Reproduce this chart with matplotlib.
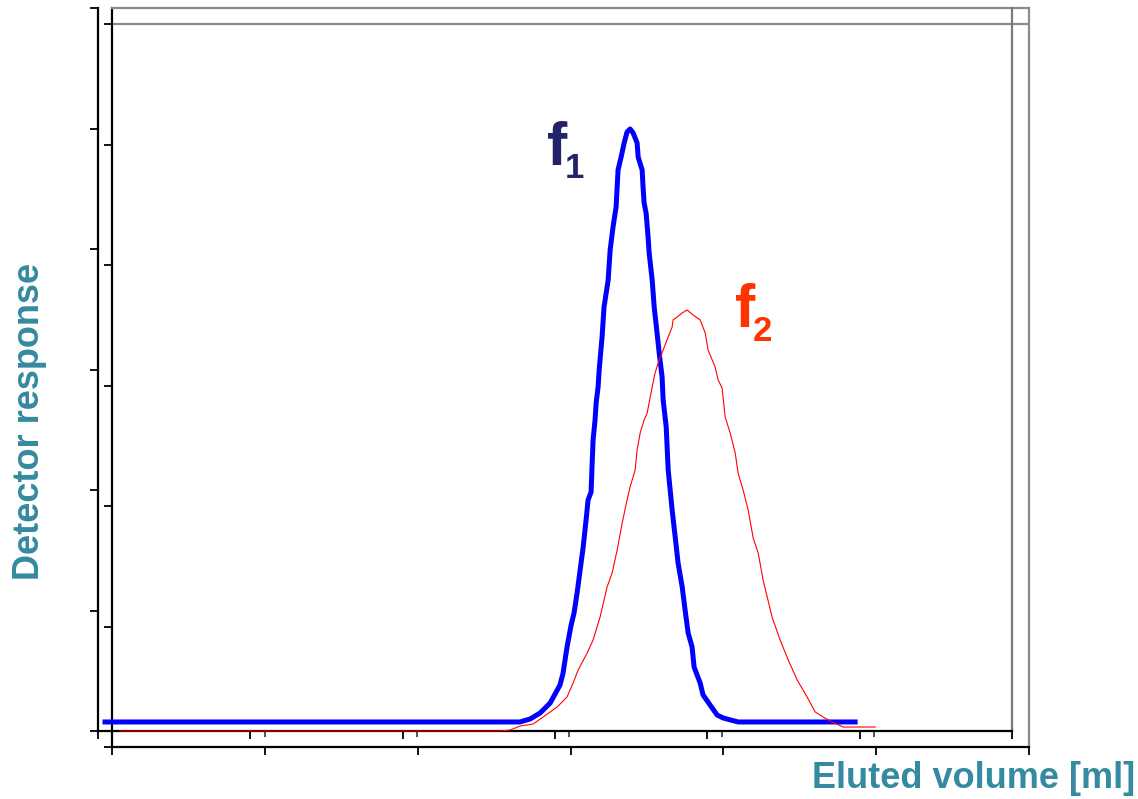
import matplotlib
matplotlib.use("Agg")
import matplotlib.pyplot as plt
import numpy as np

# ---- data (x in volume units, y in response units; axis spans 0..6 both) ----
f1_x = [0.046, 2.771, 2.837, 2.902, 2.968, 3.033, 3.053, 3.079, 3.106, 3.125,
        3.145, 3.165, 3.185, 3.204, 3.217, 3.237, 3.244, 3.250, 3.263, 3.270,
        3.283, 3.290, 3.309, 3.322, 3.336, 3.349, 3.362, 3.381, 3.401, 3.408,
        3.414, 3.434, 3.454, 3.473, 3.493, 3.513, 3.539, 3.546, 3.572, 3.578,
        3.585, 3.598, 3.611, 3.618, 3.638, 3.651, 3.670, 3.684, 3.703, 3.710,
        3.730, 3.743, 3.756, 3.769, 3.789, 3.808, 3.835, 3.854, 3.874, 3.900,
        3.913, 3.953, 3.972, 4.018, 4.064, 4.104, 4.202, 4.347, 4.970]
f1_y = [0.075, 0.075, 0.100, 0.149, 0.232, 0.382, 0.481, 0.697, 0.880, 0.979,
        1.145, 1.336, 1.527, 1.751, 1.917, 1.983, 2.224, 2.415, 2.581, 2.722,
        2.855, 2.996, 3.270, 3.519, 3.635, 3.743, 3.992, 4.183, 4.349, 4.515,
        4.656, 4.763, 4.880, 4.971, 4.996, 4.963, 4.880, 4.763, 4.656, 4.515,
        4.382, 4.299, 4.100, 3.967, 3.743, 3.519, 3.303, 3.137, 2.938, 2.747,
        2.523, 2.166, 2.000, 1.834, 1.610, 1.394, 1.195, 1.004, 0.813, 0.697,
        0.531, 0.398, 0.299, 0.216, 0.133, 0.108, 0.075, 0.075, 0.075]

f2_x = [0.144, 2.640, 2.705, 2.771, 2.856, 2.922, 3.014, 3.079, 3.119, 3.152,
        3.211, 3.250, 3.296, 3.342, 3.375, 3.408, 3.441, 3.473, 3.493, 3.526,
        3.539, 3.559, 3.585, 3.605, 3.638, 3.657, 3.677, 3.710, 3.743, 3.769,
        3.775, 3.802, 3.835, 3.867, 3.907, 3.953, 3.986, 4.005, 4.051, 4.071,
        4.097, 4.117, 4.150, 4.183, 4.202, 4.235, 4.268, 4.301, 4.334, 4.366,
        4.425, 4.478, 4.531, 4.590, 4.655, 4.708, 4.760, 4.819, 4.892, 4.984,
        5.102]
f2_y = [0.0, 0.0, 0.008, 0.041, 0.058, 0.116, 0.199, 0.282, 0.398, 0.506,
        0.647, 0.755, 0.946, 1.195, 1.311, 1.502, 1.726, 1.917, 2.025, 2.166,
        2.332, 2.473, 2.581, 2.639, 2.855, 2.971, 3.054, 3.162, 3.270, 3.353,
        3.411, 3.436, 3.469, 3.494, 3.452, 3.411, 3.303, 3.162, 3.021, 2.913,
        2.846, 2.606, 2.473, 2.307, 2.141, 2.000, 1.834, 1.602, 1.477, 1.253,
        0.946, 0.755, 0.589, 0.423, 0.282, 0.158, 0.116, 0.075, 0.033, 0.033,
        0.033]

x_ticks = [0, 1, 2, 3, 4, 5, 6]
y_ticks = [0, 1, 2, 3, 4, 5, 6]

xlabel = "Eluted volume [ml]"
ylabel = "Detector response"
label_color = "#348aa0"

W, H = 1138, 799
fig = plt.figure(figsize=(W / 100, H / 100), dpi=100, facecolor="white")


def frac(left, top, right, bottom):
    return [left / W, 1 - bottom / H, (right - left) / W, (bottom - top) / H]


def style_axes(ax, side_color, ytop):
    ax.set_xlim(0, 6)
    ax.set_ylim(0, ytop)
    ax.patch.set_alpha(0)
    for s in ("left", "bottom"):
        ax.spines[s].set_color("black")
        ax.spines[s].set_linewidth(1.6)
    for s in ("top", "right"):
        ax.spines[s].set_color(side_color)
        ax.spines[s].set_linewidth(1.6)
    ax.set_xticks(x_ticks)
    ax.set_yticks(y_ticks)
    ax.set_xticklabels([])
    ax.set_yticklabels([])
    ax.tick_params(direction="out", length=5.5, width=1.3, color="black")


# back frame (offset copy), its top edge reaches the top of the main frame
axA = fig.add_axes(frac(112, 8, 1029, 747))
style_axes(axA, "#8a8a8a", 739 / 120.5)
axA.axhline(6, color="#8a8a8a", lw=1.6, zorder=1)
axA.set_zorder(1)

# main frame
axB = fig.add_axes(frac(98, 8, 1012, 731))
style_axes(axB, "#7a7a7a", 6)
axB.spines["top"].set_visible(False)
axB.set_zorder(2)
axB.set_xticks([t + 0.095 for t in x_ticks[1:-1]], minor=True)
axB.tick_params(which="minor", direction="out", length=4.5, width=1.2,
                color="#333333")

axB.plot(f1_x, f1_y, color="#0000ff", lw=3.6, solid_joinstyle="round",
         zorder=3, clip_on=False)
axB.plot(f2_x, f2_y, color="#ff0000", lw=0.8, zorder=4, clip_on=False)

lab_font = ["Liberation Sans Narrow", "Liberation Sans", "DejaVu Sans"]
axB.text(2.948, 4.697, "f", fontsize=44, fontweight="bold", color="#23236a",
         family=lab_font, va="baseline", ha="left")
axB.text(3.066, 4.589, "1", fontsize=25, fontweight="bold", color="#23236a",
         family=lab_font, va="baseline", ha="left")
axB.text(4.183, 3.353, "f", fontsize=44, fontweight="bold", color="#ff3300",
         family=lab_font, va="baseline", ha="left")
axB.text(4.301, 3.237, "2", fontsize=25, fontweight="bold", color="#ff3300",
         family=lab_font, va="baseline", ha="left")

fig.text(30 / W, 1 - 421 / H, ylabel, rotation=90, ha="center", va="center",
         fontsize=26, fontweight="bold", color=label_color,
         family=["Liberation Sans", "DejaVu Sans"])
fig.text(1135 / W, 1 - 788 / H, xlabel, ha="right", va="baseline",
         fontsize=26, fontweight="bold", color=label_color,
         family=["Liberation Sans", "DejaVu Sans"])

fig.savefig("out.png", dpi=100, facecolor="white")
